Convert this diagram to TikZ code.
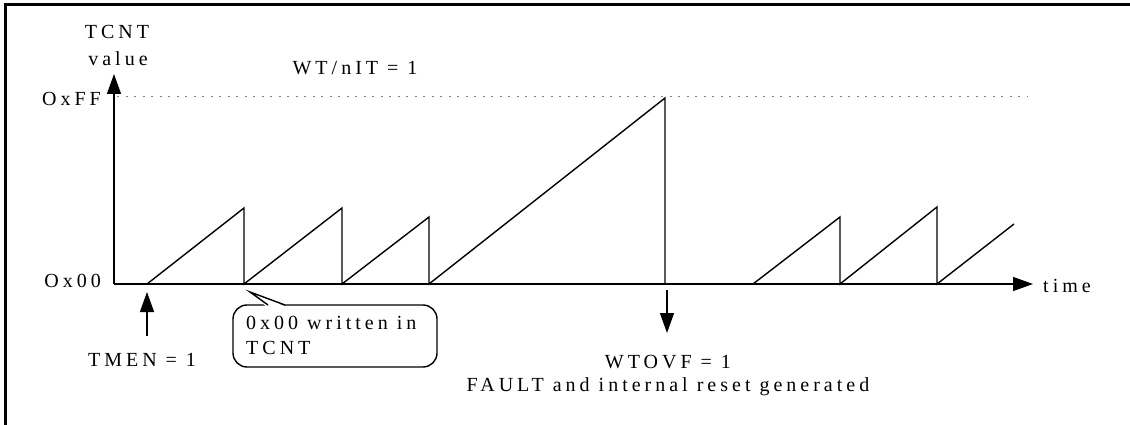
\documentclass[tikz,border=0pt]{standalone}
\usepackage{fontspec}
\setmainfont{Liberation Serif}[LetterSpace=20]
\usetikzlibrary{arrows.meta}
\begin{document}
\begin{tikzpicture}[x=1pt,y=-1pt,
  lbl/.style={font=\fontsize{20}{25}\selectfont, inner sep=0pt},
  tri/.style={-{Triangle[length=20pt,width=14pt]}},
  plot/.style={line width=1.4pt, line join=miter}]
\useasboundingbox (0,0) rectangle (1130,425);
% frame
\draw[line width=3pt] (3.5,5) -- (1130,5);
\draw[line width=3pt] (5,3.5) -- (5,425);
% axes
\coordinate (O) at (114,284);
\coordinate (ytop) at (114,74);
\coordinate (xend) at (1033,284);
\draw[plot, tri] (O) -- (ytop);
\draw[plot, tri] (O) -- (xend);
% dotted max line
\coordinate (d1) at (117,97);
\coordinate (d2) at (1028,97);
\draw[gray, line width=1pt, dash pattern=on 2pt off 6.5pt] (d1) -- (d2);
% sawtooth
\draw[plot] (147,284) -- (244,208) -- (244,284) -- (342,208) -- (342,284)
  -- (429,217) -- (429,284) -- (665,98) -- (665,284);
\draw[plot] (753,284) -- (840,217) -- (840,284) -- (937,207) -- (937,284) -- (1014,224);
% labels
\node[lbl] (tcnt) at (117,32) {TCNT};
\node[lbl] (value) at (118,59) {value};
\node[lbl] (wt) at (355,68) {WT/nIT = 1};
\node[lbl, anchor=east] (ff) at (101,99) {OxFF};
\node[lbl, anchor=east] (zero) at (101,281) {Ox00};
\node[lbl, anchor=west] (time) at (1043,286) {time};
% TMEN arrow
\node[lbl] (tmen) at (142,360) {TMEN = 1};
\coordinate (tmtail) at (147,336);
\coordinate (tmtip) at (147,292);
\draw[plot, tri] (tmtail) -- (tmtip);
% WTOVF arrow
\coordinate (wtail) at (667,290);
\coordinate (wtip) at (667,333);
\draw[plot, tri] (wtail) -- (wtip);
\node[lbl] (wtovf) at (668,362) {WTOVF = 1};
\node[lbl] (fault) at (668,387) {FAULT and internal reset generated};
% callout
\draw[plot, rounded corners=14pt, fill=white] (233,305) rectangle (437,367);
\fill[white] (266.5,306.8) -- (250,292) -- (286.5,306.8) -- cycle;
\coordinate (ctip) at (250,292);
\coordinate (cb1) at (268,305);
\coordinate (cb2) at (285,305);
\draw[plot] (cb1) -- (ctip) -- (cb2);
\node[lbl, align=left, anchor=north west] (note) at (246,316) {0x00 written in\\TCNT};
\end{tikzpicture}
\end{document}
